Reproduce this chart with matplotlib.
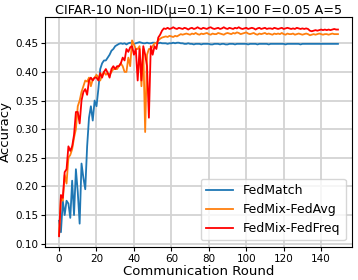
import matplotlib
matplotlib.use("Agg")
import matplotlib.pyplot as plt

# accuracy per communication round
fedmatch = [0.140, 0.120, 0.175, 0.150, 0.175, 0.170, 0.145, 0.210, 0.150, 0.230,
            0.190, 0.135, 0.240, 0.215, 0.195, 0.270, 0.320, 0.340, 0.315, 0.350,
            0.340, 0.370, 0.405, 0.415, 0.420, 0.420, 0.425, 0.430, 0.437, 0.440,
            0.445, 0.447, 0.449, 0.450, 0.449, 0.450, 0.448, 0.450, 0.451, 0.450,
            0.449, 0.450, 0.451, 0.452, 0.451, 0.450, 0.450, 0.451, 0.450, 0.450,
            0.451, 0.451, 0.450, 0.450, 0.451, 0.450, 0.450, 0.450, 0.449, 0.450,
            0.450, 0.451, 0.450, 0.451, 0.451, 0.450, 0.450, 0.449, 0.449, 0.450,
            0.449, 0.449, 0.448, 0.449, 0.449, 0.449, 0.448, 0.449, 0.449, 0.449,
            0.449, 0.448, 0.448, 0.449, 0.449, 0.449, 0.448, 0.449, 0.449, 0.448,
            0.448, 0.449, 0.449, 0.449, 0.448, 0.449, 0.449, 0.449, 0.449, 0.449,
            0.449, 0.448, 0.449, 0.449, 0.449, 0.449, 0.448, 0.449, 0.449, 0.449,
            0.449, 0.449, 0.448, 0.449, 0.449, 0.449, 0.449, 0.449, 0.449, 0.449,
            0.449, 0.448, 0.449, 0.449, 0.449, 0.449, 0.449, 0.449, 0.449, 0.448,
            0.449, 0.449, 0.449, 0.449, 0.449, 0.449, 0.449, 0.449, 0.449, 0.449,
            0.449, 0.449, 0.449, 0.449, 0.449, 0.449, 0.449, 0.449, 0.449, 0.449]

fedmix_fedavg = [0.115, 0.180, 0.175, 0.220, 0.205, 0.250, 0.255, 0.265, 0.285, 0.300,
                 0.340, 0.350, 0.365, 0.375, 0.385, 0.383, 0.390, 0.375, 0.387, 0.390,
                 0.395, 0.390, 0.385, 0.395, 0.400, 0.395, 0.398, 0.395, 0.400, 0.405,
                 0.405, 0.405, 0.410, 0.415, 0.410, 0.400, 0.400, 0.425, 0.410, 0.455,
                 0.448, 0.440, 0.440, 0.445, 0.375, 0.440, 0.295, 0.430, 0.440, 0.440,
                 0.445, 0.450, 0.450, 0.455, 0.458, 0.460, 0.461, 0.462, 0.461, 0.463,
                 0.462, 0.461, 0.463, 0.462, 0.464, 0.466, 0.465, 0.466, 0.467, 0.466,
                 0.465, 0.467, 0.466, 0.468, 0.466, 0.465, 0.467, 0.466, 0.467, 0.468,
                 0.466, 0.465, 0.467, 0.466, 0.466, 0.468, 0.467, 0.466, 0.465, 0.467,
                 0.468, 0.467, 0.466, 0.468, 0.467, 0.469, 0.468, 0.466, 0.467, 0.468,
                 0.469, 0.467, 0.466, 0.467, 0.468, 0.466, 0.465, 0.467, 0.466, 0.467,
                 0.468, 0.466, 0.467, 0.466, 0.465, 0.467, 0.466, 0.467, 0.466, 0.468,
                 0.466, 0.465, 0.467, 0.466, 0.466, 0.467, 0.465, 0.466, 0.467, 0.466,
                 0.465, 0.466, 0.467, 0.466, 0.464, 0.465, 0.466, 0.465, 0.466, 0.467,
                 0.466, 0.465, 0.466, 0.466, 0.465, 0.466, 0.467, 0.466, 0.466, 0.466]

fedmix_fedfreq = [0.113, 0.185, 0.180, 0.225, 0.230, 0.270, 0.262, 0.270, 0.290, 0.330,
                  0.330, 0.310, 0.350, 0.365, 0.370, 0.360, 0.385, 0.390, 0.385, 0.390,
                  0.390, 0.385, 0.398, 0.390, 0.400, 0.405, 0.398, 0.390, 0.405, 0.410,
                  0.405, 0.410, 0.410, 0.415, 0.425, 0.420, 0.440, 0.435, 0.443, 0.445,
                  0.430, 0.440, 0.385, 0.440, 0.385, 0.445, 0.430, 0.410, 0.320, 0.445,
                  0.430, 0.445, 0.440, 0.460, 0.465, 0.472, 0.476, 0.475, 0.477, 0.475,
                  0.476, 0.478, 0.476, 0.475, 0.477, 0.476, 0.475, 0.477, 0.476, 0.474,
                  0.476, 0.477, 0.475, 0.476, 0.478, 0.476, 0.475, 0.477, 0.476, 0.475,
                  0.477, 0.478, 0.476, 0.475, 0.476, 0.477, 0.475, 0.476, 0.478, 0.476,
                  0.475, 0.477, 0.476, 0.475, 0.477, 0.476, 0.478, 0.476, 0.475, 0.476,
                  0.477, 0.475, 0.476, 0.477, 0.476, 0.474, 0.476, 0.477, 0.475, 0.476,
                  0.477, 0.475, 0.476, 0.476, 0.475, 0.477, 0.476, 0.475, 0.476, 0.477,
                  0.475, 0.476, 0.477, 0.476, 0.475, 0.476, 0.475, 0.477, 0.476, 0.475,
                  0.476, 0.475, 0.476, 0.475, 0.472, 0.471, 0.472, 0.473, 0.472, 0.473,
                  0.474, 0.473, 0.474, 0.473, 0.474, 0.473, 0.474, 0.475, 0.474, 0.474]

rounds = list(range(len(fedmatch)))

fig = plt.figure(figsize=(3.58, 2.8), dpi=100)
ax = fig.add_axes([0.126, 0.119, 0.857, 0.821])

ax.plot(rounds, fedmatch, color="#1f77b4", lw=1.3, label="FedMatch")
ax.plot(rounds, fedmix_fedavg, color="#ff7f0e", lw=1.3, label="FedMix-FedAvg")
ax.plot(rounds, fedmix_fedfreq, color="red", lw=1.3, label="FedMix-FedFreq")

ax.set_title("CIFAR-10 Non-IID(\u03bc=0.1) K=100 F=0.05 A=5", fontsize=9.2, pad=2)
ax.set_xlabel("Communication Round", fontsize=9.5, labelpad=1)
ax.set_ylabel("Accuracy", fontsize=9.5, labelpad=2)
ax.set_xticks([0, 20, 40, 60, 80, 100, 120, 140])
ax.set_yticks([0.10, 0.15, 0.20, 0.25, 0.30, 0.35, 0.40, 0.45])
ax.tick_params(labelsize=7.5, length=3, pad=2)
ax.grid(True, color="#d3d3d3", lw=1.3)
ax.set_axisbelow(True)
ax.legend(loc="lower right", fontsize=9, handlelength=2.2)

fig.savefig("out.png", dpi=100)
